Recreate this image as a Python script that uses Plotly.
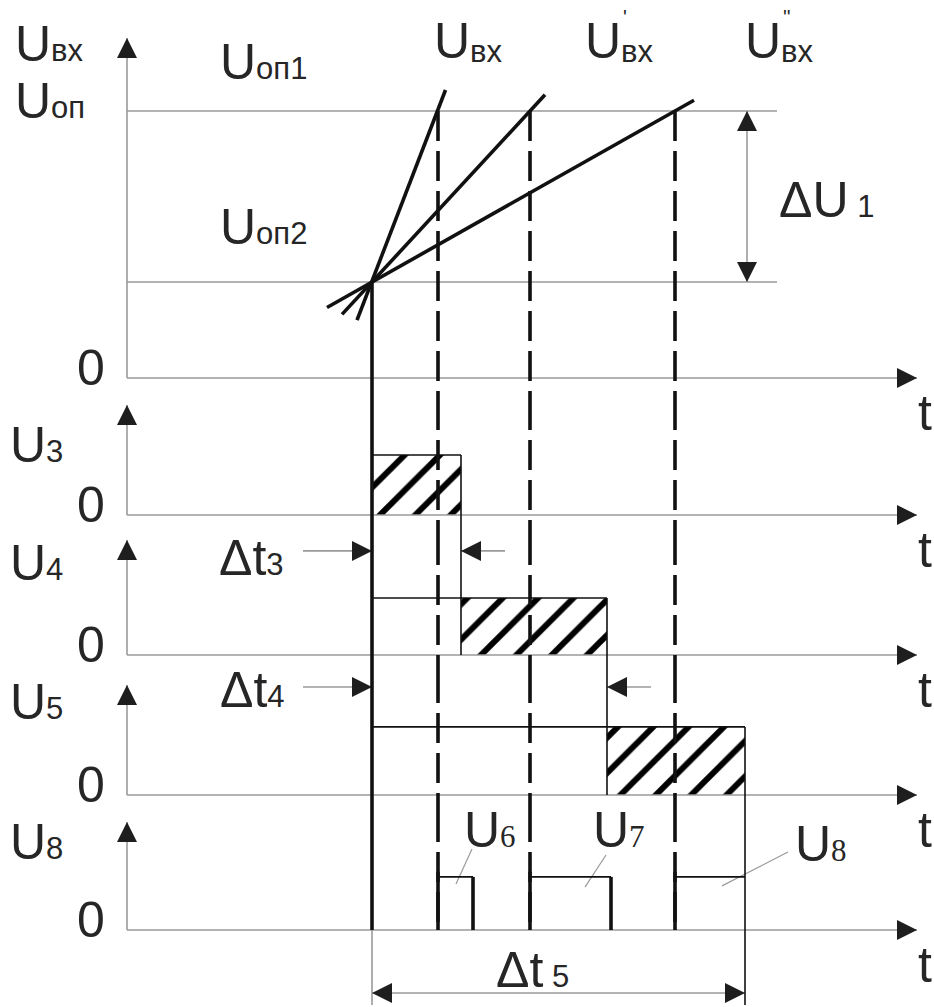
import plotly.graph_objects as go

# ---------------- data (time and voltage in arbitrary units) ----------------
T_ON = 24.5                          # ramp start: U_вх passes U_оп2
T_CROSS = [31.1, 40.3, 54.8]         # U_вх, U'_вх, U''_вх reach U_оп1
U_OP1 = 8.9                          # upper reference level U_оп1
U_OP2 = 3.2                          # lower reference level U_оп2
RAMP_T = [[23.0, 31.85], [21.5, 41.8], [20.0, 56.7]]
RAMP_V = [[1.93, 9.6], [2.12, 9.44], [2.35, 9.26]]
REF_END = 65.0                       # end of reference lines
STAGE_END = [33.4, 48.0, 61.8]       # ends of U3, U4, U5
STAGE_LEVEL = [2.0, 1.9, 2.27]       # levels of U3, U4, U5
STAGE_NAMES = ["3", "4", "5"]
PULSE_START = T_CROSS                # U6, U7, U8 start at crossings
PULSE_END = [34.6, 48.4, 61.8]
PULSE_LEVEL = 1.77
PULSE_NAMES = ["6", "7", "8"]
INPUT_PRIMES = ["", "'", "''"]

# ---------------- layout constants ----------------
W, H = 934, 1007
X0_PX, PX_PER_T = 127, 10.0
PX_PER_V = 30.0
PANEL_TOP = [0, 400, 535, 673, 812]
PANEL_BOT = [400, 535, 673, 812, 1007]
PANEL_ZERO = [378, 515, 655, 795, 930]
AXIS_TIP = [38, 405, 540, 685, 822]
T_AXIS_END = 79.0

FONT = "Liberation Sans, Arial, sans-serif"
FS = 50
SUBFS = 31
TXT = "#262626"
GRAY = "#9a9a9a"
BLACK = "#111111"
HEAD = "#1e1e1e"
THICK = 3.6
THIN = 1.6

YA = ["y", "y2", "y3", "y4", "y5"]
RANGES = []
for top, bot, zero in zip(PANEL_TOP, PANEL_BOT, PANEL_ZERO):
    RANGES.append([(zero - bot) / PX_PER_V, (zero - top) / PX_PER_V])

traces = []
annotations = []


def line(p, xs, ys, color, width, dash="solid"):
    traces.append(go.Scatter(x=xs, y=ys, xaxis="x", yaxis=YA[p], mode="lines",
                             line=dict(color=color, width=width, dash=dash),
                             hoverinfo="skip"))


def vline(t, p0, v0, p1, v1, color, width, dash="solid"):
    for p in range(p0, p1 + 1):
        top = v0 if p == p0 else RANGES[p][1]
        bot = v1 if p == p1 else RANGES[p][0]
        line(p, [t, t], [top, bot], color, width, dash)


def heads(p, xs, ys, symbols, size=20):
    traces.append(go.Scatter(x=xs, y=ys, xaxis="x", yaxis=YA[p], mode="markers",
                             marker=dict(symbol=symbols, size=size, color=HEAD,
                                         line=dict(width=0)),
                             cliponaxis=False, hoverinfo="skip"))


def hatch(p, t0, t1, level):
    traces.append(go.Scatter(x=[t0, t1, t1, t0, t0], y=[0, 0, level, level, 0],
                             xaxis="x", yaxis=YA[p], mode="lines", fill="toself",
                             line=dict(width=0, color="rgba(0,0,0,0)"),
                             fillcolor="white",
                             fillpattern=dict(shape="/", size=25, solidity=0.24,
                                              fgcolor="#000000", bgcolor="white",
                                              fgopacity=1),
                             hoverinfo="skip"))


def label(p, t, v, text, size=FS, xanchor="left", yanchor="middle", yshift=0):
    annotations.append(dict(x=t, y=v, xref="x", yref=YA[p], text=text, showarrow=False,
                            xanchor=xanchor, yanchor=yanchor, yshift=yshift,
                            font=dict(size=size, family=FONT, color=TXT)))


def sub(base, s, serif=False):
    fam = "font-family:'Liberation Serif';" if serif else ""
    return f'{base}<span style="{fam}font-size:{SUBFS}px">{s}</span>'


# ---------------- hatched regions ----------------
for k in range(3):
    start = T_ON if k == 0 else STAGE_END[k - 1]
    hatch(k + 1, start, STAGE_END[k], STAGE_LEVEL[k])

# ---------------- axes (gray) ----------------
for p in range(5):
    tip_v = (PANEL_ZERO[p] - AXIS_TIP[p]) / PX_PER_V
    line(p, [0, 0], [0, tip_v], GRAY, THIN)
    line(p, [0, T_AXIS_END], [0, 0], GRAY, THIN)
    heads(p, [0], [tip_v], ["arrow-up"])
    heads(p, [T_AXIS_END], [0], ["arrow-right"])
    label(p, 80.7, 0, "t", xanchor="right", yshift=-35)
    label(p, -2.0, 0.33, "0", xanchor="right")

# reference levels
line(0, [0, REF_END], [U_OP1, U_OP1], GRAY, THIN)
line(0, [0, REF_END], [U_OP2, U_OP2], GRAY, THIN)
# ΔU1 dimension
line(0, [62.0, 62.0], [U_OP2, U_OP1], GRAY, THIN)
heads(0, [62.0, 62.0], [U_OP1, U_OP2], ["arrow-up", "arrow-down"])

# Δt3, Δt4 dimension arrows
for k, v in zip(range(2), [3.47, 3.6]):
    p = k + 2
    line(p, [17.6, T_ON], [v, v], GRAY, THIN)
    line(p, [STAGE_END[k] + 4.4, STAGE_END[k]], [v, v], GRAY, THIN)
    heads(p, [T_ON, STAGE_END[k]], [v, v], ["arrow-right", "arrow-left"])

# Δt5 dimension
line(4, [T_ON, T_ON], [0, -2.5], GRAY, THIN)
line(4, [T_ON, STAGE_END[2]], [-2.1, -2.1], GRAY, THIN)
heads(4, [T_ON, STAGE_END[2]], [-2.1, -2.1], ["arrow-left", "arrow-right"])

# leaders for U6, U7, U8
LEADERS = [([34.5, 32.9], [2.7, 1.53]), ([47.9, 45.8], [2.5, 1.43]), ([66.1, 59.5], [2.6, 1.47])]
for xs, ys in LEADERS:
    line(4, xs, ys, GRAY, 1.2)

# ---------------- thin black waveform outlines ----------------
for k in range(3):
    p = k + 1
    line(p, [T_ON, STAGE_END[k]], [STAGE_LEVEL[k], STAGE_LEVEL[k]], BLACK, THIN)
    end_v = -2.5 if k == 2 else 0
    vline(STAGE_END[k], p, STAGE_LEVEL[k], p + 1, end_v, BLACK, THIN)

for k in range(3):
    line(4, [PULSE_START[k], PULSE_END[k]], [PULSE_LEVEL, PULSE_LEVEL], BLACK, THIN)

# ---------------- thick black lines ----------------
for ts, vs in zip(RAMP_T, RAMP_V):
    line(0, ts, vs, BLACK, THICK)
vline(T_ON, 0, U_OP2, 4, 0, BLACK, THICK)
for t in T_CROSS:
    vline(t, 0, U_OP1, 4, 0, BLACK, THICK, dash="30px,10px")
for k in range(3):
    line(4, [PULSE_START[k], PULSE_START[k]], [0, PULSE_LEVEL + 0.17], BLACK, THICK)
    if k < 2:
        line(4, [PULSE_END[k], PULSE_END[k]], [0, PULSE_LEVEL], BLACK, THICK)

# ---------------- text ----------------
label(0, -11.4, 11.13, sub("U", "вх"))
label(0, -11.4, 9.23, sub("U", "оп"))
label(0, 9.1, 10.55, sub("U", "оп1"))
label(0, 9.1, 5.05, sub("U", "оп2"))
# input-signal names above the ramps: U, subscript, primes
for t, primes in zip([30.5, 45.6, 61.6], INPUT_PRIMES):
    label(0, t, 11.23, "U")
    label(0, t + 3.55, 10.87, "вх", size=SUBFS)
    if primes:
        label(0, t + 3.75, 12.03, primes, size=20, xanchor="left")
label(0, 69.9, 5.93, sub("ΔU", " 1"), xanchor="center")
for k, v in enumerate([2.33, 3.07, 3.1]):
    label(k + 1, -11.9, v, sub("U", STAGE_NAMES[k]))
label(4, -11.9, 2.93, sub("U", "8"))
label(2, 9.0, 3.23, sub("Δt", "3"))
label(3, 9.1, 3.5, sub("Δt", "4"))
for t, v, name in zip([33.5, 46.4, 66.6], [3.33, 3.33, 2.87], PULSE_NAMES):
    label(4, t, v, sub("U", name, serif=True))
label(4, 40.5, -1.33, sub("Δt", " 5"), xanchor="center")

fig = go.Figure(traces)
layout = dict(
    width=W, height=H, margin=dict(l=0, r=0, t=0, b=0),
    paper_bgcolor="white", plot_bgcolor="white", showlegend=False,
    annotations=annotations,
    xaxis=dict(range=[-X0_PX / PX_PER_T, (W - X0_PX) / PX_PER_T], visible=False,
               domain=[0, 1], anchor="y5"),
)
for p in range(5):
    key = "yaxis" if p == 0 else f"yaxis{p + 1}"
    layout[key] = dict(range=RANGES[p], visible=False, anchor="x",
                       domain=[1 - PANEL_BOT[p] / H, 1 - PANEL_TOP[p] / H])
fig.update_layout(**layout)
fig.write_html("out.html", config={"displayModeBar": False},
               post_script="document.body.style.margin='0px';")
